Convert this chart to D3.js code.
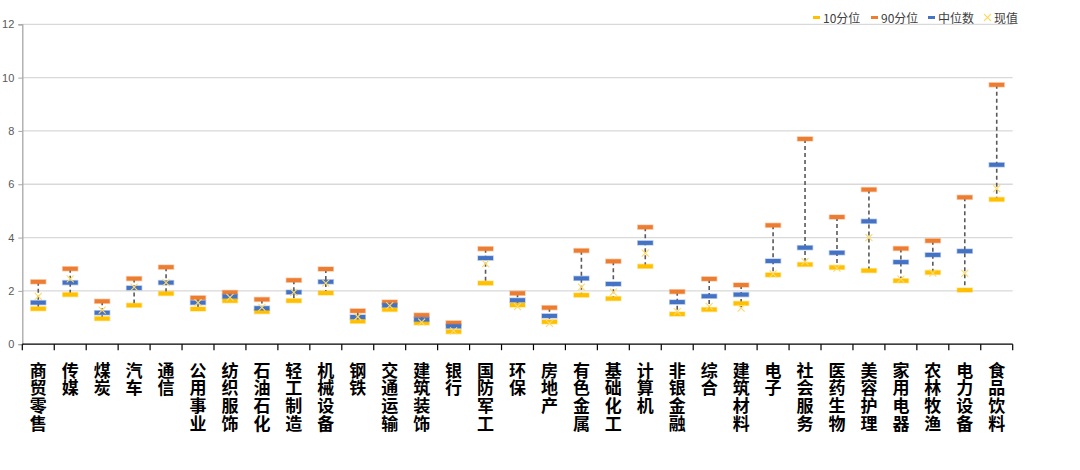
<!DOCTYPE html>
<html><head><meta charset="utf-8">
<script src="https://cdn.jsdelivr.net/npm/d3@7"></script>
<style>body{margin:0;background:#fff}svg{display:block}</style>
</head><body>
<svg id="c" width="1080" height="470"></svg>
<script>
const categories = ["商贸零售","传媒","煤炭","汽车","通信","公用事业","纺织服饰","石油石化","轻工制造","机械设备","钢铁","交通运输","建筑装饰","银行","国防军工","环保","房地产","有色金属","基础化工","计算机","非银金融","综合","建筑材料","电子","社会服务","医药生物","美容护理","家用电器","农林牧渔","电力设备","食品饮料"];
const p10 = [1.33,1.86,0.96,1.46,1.90,1.32,1.63,1.22,1.63,1.92,0.86,1.30,0.80,0.47,2.29,1.47,0.84,1.84,1.71,2.92,1.13,1.30,1.53,2.60,2.99,2.88,2.76,2.38,2.69,2.03,5.43];
const p90 = [2.34,2.83,1.61,2.46,2.89,1.74,1.94,1.68,2.40,2.82,1.25,1.58,1.09,0.80,3.58,1.91,1.37,3.51,3.11,4.39,1.97,2.45,2.22,4.46,7.70,4.77,5.80,3.59,3.88,5.51,9.73];
const median = [1.56,2.31,1.18,2.11,2.31,1.56,1.79,1.35,1.95,2.34,1.02,1.46,0.93,0.67,3.23,1.65,1.06,2.47,2.26,3.80,1.58,1.80,1.86,3.12,3.62,3.43,4.61,3.08,3.35,3.49,6.73];
const current = [1.79,2.45,1.28,2.14,2.31,1.56,1.76,1.38,1.94,2.29,1.03,1.45,0.83,0.50,3.02,1.41,0.78,2.14,1.95,3.42,1.22,1.42,1.35,2.64,3.10,2.85,4.00,2.44,2.67,2.66,5.84];
const yTicks = [0,2,4,6,8,10,12];
const legendNames = ["10分位","90分位","中位数","现值"];

const C10 = "#FFC000", C90 = "#ED7D31", CMED = "#4472C4", CCUR = "#FFD966";
const svg = d3.select("#c");
const L = 22.3, R = 1012.7, T = 24.3, B = 344.2;
const x = d3.scaleBand().domain(categories).range([L, R]).padding(0);
const y = d3.scaleLinear().domain([0, 12]).range([B, T]);
const cx = c => x(c) + x.bandwidth() / 2;

// gridlines
svg.append("g").selectAll("line").data(yTicks.filter(t => t > 0)).join("line")
  .attr("x1", L).attr("x2", R).attr("y1", d => y(d)).attr("y2", d => y(d))
  .attr("stroke", "#D9D9D9").attr("stroke-width", 1.3);

// y axis
const yAxis = d3.axisLeft(y).tickValues(yTicks).tickSize(4).tickPadding(4);
const gy = svg.append("g").attr("transform", `translate(${L},0)`).call(yAxis);
gy.select(".domain").attr("stroke", "#A6A6A6").attr("stroke-width", 1.3);
gy.selectAll(".tick line").attr("stroke", "#A6A6A6");
gy.selectAll(".tick text").attr("fill", "#595959").style("font-family", "'Liberation Sans', Arial, sans-serif").style("font-size", "11px");

// x axis line and ticks at boundaries
const gx = svg.append("g");
gx.append("line").attr("x1", L).attr("x2", R).attr("y1", B).attr("y2", B).attr("stroke", "#000").attr("stroke-width", 1.3);
const bounds = categories.map(c => x(c)).concat([R]);
gx.selectAll("line.tk").data(bounds).join("line").attr("class", "tk")
  .attr("x1", d => d).attr("x2", d => d).attr("y1", B).attr("y2", B + 6)
  .attr("stroke", "#000").attr("stroke-width", 1.2);

// category labels (vertical stacked chars)
const lab = svg.append("g").style("font-family", "'Noto Sans CJK SC', sans-serif").style("font-size", "17px").style("font-weight", "bold").attr("fill", "#000");
categories.forEach(c => {
  const t = lab.append("text").attr("text-anchor", "middle");
  Array.from(c).forEach((ch, i) => {
    t.append("tspan").attr("x", cx(c)).attr("y", 369 + i * 17.7).attr("dominant-baseline", "central").text(ch);
  });
});

// high-low dashed lines
const data = categories.map((c, i) => ({c, a: p10[i], b: p90[i], m: median[i], v: current[i]}));
svg.append("g").selectAll("line").data(data).join("line")
  .attr("x1", d => cx(d.c)).attr("x2", d => cx(d.c))
  .attr("y1", d => y(Math.max(d.a, d.b, d.m, d.v))).attr("y2", d => y(Math.min(d.a, d.b, d.m, d.v)))
  .attr("stroke", "#595959").attr("stroke-width", 1.6).attr("stroke-dasharray", "4,3");

// dash markers
function dashes(vals, color) {
  svg.append("g").selectAll("rect").data(categories).join("rect")
    .attr("x", c => cx(c) - 7.5).attr("width", 15)
    .attr("y", (c, i) => y(vals[i]) - 2).attr("height", 4)
    .attr("fill", color).attr("stroke", color).attr("stroke-opacity", 0.35).attr("stroke-width", 1.5);
}
dashes(p10, C10);
dashes(p90, C90);
dashes(median, CMED);

// current value X markers
const s = 3.5;
svg.append("g").selectAll("path").data(categories).join("path")
  .attr("d", (c, i) => { const X = cx(c), Y = y(current[i]); return `M${X-s},${Y-s}L${X+s},${Y+s}M${X-s},${Y+s}L${X+s},${Y-s}`; })
  .attr("stroke", CCUR).attr("stroke-width", 1.1).attr("fill", "none");

// legend
const lg = svg.append("g").style("font-family", "'Noto Sans CJK SC', sans-serif").style("font-size", "12px");
const lx = [813, 871, 928, 984];
const lc = [C10, C90, CMED];
legendNames.forEach((n, i) => {
  if (i < 3) {
    lg.append("rect").attr("x", lx[i]).attr("y", 16).attr("width", 7).attr("height", 3).attr("fill", lc[i]);
  } else {
    const X = lx[i] + 3.5, Y = 17.5;
    lg.append("path").attr("d", `M${X-s},${Y-s}L${X+s},${Y+s}M${X-s},${Y+s}L${X+s},${Y-s}`).attr("stroke", CCUR).attr("stroke-width", 1.1);
  }
  lg.append("text").attr("x", lx[i] + 10).attr("y", 17.5).attr("dominant-baseline", "central").attr("fill", "#404040").text(n);
});
</script>
</body></html>
